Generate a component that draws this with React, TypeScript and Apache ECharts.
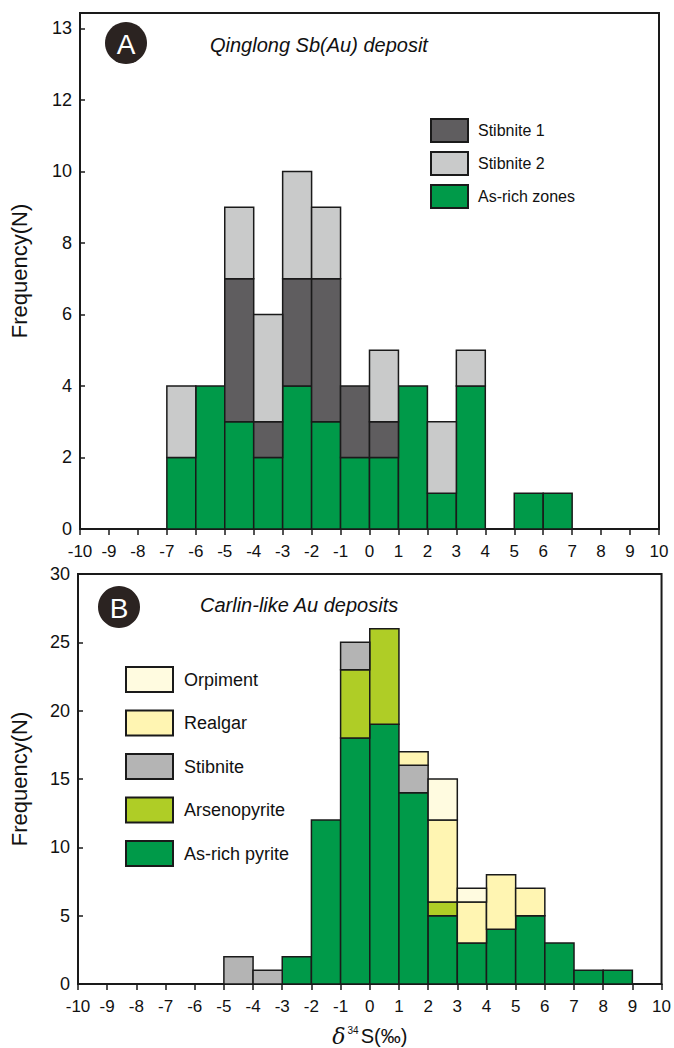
import React, { useEffect, useRef } from "react";
import * as echarts from "echarts";

// ---------- Data ----------
// Panel A: Qinglong Sb(Au) deposit, bins of 1‰ starting at these values
const binStartsA = [-7, -6, -5, -4, -3, -2, -1, 0, 1, 2, 3, 4, 5, 6];
const asRichA = [2, 4, 3, 2, 4, 3, 2, 2, 4, 1, 4, 0, 1, 1];
const stibnite1A = [0, 0, 4, 1, 3, 4, 2, 1, 0, 0, 0, 0, 0, 0];
const stibnite2A = [2, 0, 2, 3, 3, 2, 0, 2, 0, 2, 1, 0, 0, 0];

// Panel B: Carlin-like Au deposits
const binStartsB = [-5, -4, -3, -2, -1, 0, 1, 2, 3, 4, 5, 6, 7, 8];
const pyriteB = [0, 0, 2, 12, 18, 19, 14, 5, 3, 4, 5, 3, 1, 1];
const arsenoB = [0, 0, 0, 0, 5, 7, 0, 1, 0, 0, 0, 0, 0, 0];
const stibniteB = [2, 1, 0, 0, 2, 0, 2, 0, 0, 0, 0, 0, 0, 0];
const realgarB = [0, 0, 0, 0, 0, 0, 1, 6, 3, 4, 2, 0, 0, 0];
const orpimentB = [0, 0, 0, 0, 0, 0, 0, 3, 1, 0, 0, 0, 0, 0];

const FONT = "'Liberation Sans', Arial, sans-serif";
const STROKE = "#1a1a1a";

type Layer = { name: string; values: number[]; color: string };

const layersA: Layer[] = [
  { name: "As-rich zones", values: asRichA, color: "#009a49" },
  { name: "Stibnite 1", values: stibnite1A, color: "#5f5d5f" },
  { name: "Stibnite 2", values: stibnite2A, color: "#c9caca" },
];
const layersB: Layer[] = [
  { name: "As-rich pyrite", values: pyriteB, color: "#009a49" },
  { name: "Arsenopyrite", values: arsenoB, color: "#afcd26" },
  { name: "Stibnite", values: stibniteB, color: "#b4b4b4" },
  { name: "Realgar", values: realgarB, color: "#fff5b2" },
  { name: "Orpiment", values: orpimentB, color: "#fffbe0" },
];

function buildSeries(layers: Layer[], starts: number[], axisIndex: number) {
  const base = starts.map(() => 0);
  return layers.map((layer) => {
    const data: number[][] = [];
    layer.values.forEach((v, i) => {
      if (v > 0) {
        data.push([starts[i], starts[i] + 1, base[i], base[i] + v]);
      }
      base[i] += v;
    });
    return {
      type: "custom",
      name: layer.name,
      xAxisIndex: axisIndex,
      yAxisIndex: axisIndex,
      itemStyle: { color: layer.color, borderColor: STROKE, borderWidth: 1.5 },
      encode: { x: [0, 1], y: [2, 3] },
      data,
      renderItem: (params: any, api: any) => {
        const x0 = api.value(0);
        const x1 = api.value(1);
        const y0 = api.value(2);
        const y1 = api.value(3);
        const p0 = api.coord([x0, y1]);
        const p1 = api.coord([x1, y0]);
        return {
          type: "rect",
          shape: { x: p0[0], y: p0[1], width: p1[0] - p0[0], height: p1[1] - p0[1] },
          style: { fill: layer.color, stroke: STROKE, lineWidth: 1.5 },
        };
      },
      z: 2,
    };
  });
}

export default function App() {
  const ref = useRef<HTMLDivElement>(null);
  useEffect(() => {
    if (!ref.current) return;
    const chart = echarts.init(ref.current, undefined, { renderer: "svg" });

    const xAxisCommon = {
      type: "value",
      min: -10,
      max: 10,
      interval: 1,
      axisLine: { show: true, onZero: false, lineStyle: { color: STROKE, width: 2 } },
      axisTick: { show: true, inside: false, length: 6, lineStyle: { color: STROKE, width: 1.5 } },
      axisLabel: { color: "#111", fontSize: 17, fontFamily: FONT, margin: 14 },
      splitLine: { show: false },
    };
    const yAxisCommon = {
      type: "value",
      min: 0,
      axisLine: { show: true, onZero: false, lineStyle: { color: STROKE, width: 2 } },
      axisTick: { show: true, inside: true, length: 5, lineStyle: { color: STROKE, width: 1.5 } },
      splitLine: { show: false },
      nameLocation: "middle",
      nameTextStyle: { color: "#111", fontSize: 22, fontFamily: FONT },
    };

    const option: any = {
      animation: false,
      backgroundColor: "#fff",
      grid: [
        { left: 75, right: 15, top: 13, bottom: 519, show: true, borderColor: STROKE, borderWidth: 2, containLabel: false },
        { left: 73, right: 11, top: 574, bottom: 58, show: true, borderColor: STROKE, borderWidth: 2, containLabel: false },
      ],
      xAxis: [
        { ...xAxisCommon, gridIndex: 0 },
        {
          ...xAxisCommon,
          gridIndex: 1,
          name: "{d|δ}{sup|34}{s|S(‰)}",
          nameLocation: "middle",
          nameGap: 41,
          nameTextStyle: {
            rich: {
              d: { fontSize: 22, fontStyle: "italic", fontFamily: "'DejaVu Serif', serif", color: "#111" },
              sup: { fontSize: 10, fontFamily: FONT, color: "#111", padding: [0, 2, 12, 2] },
              s: { fontSize: 20, fontFamily: FONT, color: "#111" },
            },
          },
        },
      ],
      yAxis: [
        {
          ...yAxisCommon,
          gridIndex: 0,
          max: 14.43,
          interval: 2,
          name: "Frequency(N)",
          nameGap: 50,
          axisLabel: {
            color: "#111",
            fontSize: 18,
            fontFamily: FONT,
            margin: 8,
            formatter: (v: number) => (v === 14 ? "13" : Number.isInteger(v) && v % 2 === 0 ? String(v) : ""),
          },
        },
        {
          ...yAxisCommon,
          gridIndex: 1,
          max: 30,
          interval: 5,
          name: "Frequency(N)",
          nameGap: 48,
          axisLabel: { color: "#111", fontSize: 18, fontFamily: FONT, margin: 8 },
        },
      ],
      legend: [
        {
          orient: "vertical",
          left: 425,
          top: 113,
          itemWidth: 37,
          itemHeight: 23,
          itemGap: 8,
          selectedMode: false,
          icon: "rect",
          data: ["Stibnite 1", "Stibnite 2", "As-rich zones"],
          textStyle: { color: "#111", fontSize: 16, fontFamily: FONT, padding: [0, 0, 0, 5] },
        },
        {
          orient: "vertical",
          left: 120,
          top: 661,
          itemWidth: 47,
          itemHeight: 25,
          itemGap: 16.5,
          selectedMode: false,
          icon: "rect",
          data: ["Orpiment", "Realgar", "Stibnite", "Arsenopyrite", "As-rich pyrite"],
          textStyle: { color: "#111", fontSize: 18, fontFamily: FONT, padding: [0, 0, 0, 6] },
        },
      ],
      graphic: [
        { type: "circle", shape: { cx: 126, cy: 43, r: 21 }, style: { fill: "#2b2321" } },
        {
          type: "text",
          x: 126,
          y: 44,
          style: { text: "A", fill: "#fff", font: `28px ${FONT}`, align: "center", verticalAlign: "middle" },
        },
        {
          type: "text",
          x: 210,
          y: 45,
          style: { text: "Qinglong Sb(Au) deposit", fill: "#111", font: `italic 20px ${FONT}`, align: "left", verticalAlign: "middle" },
        },
        { type: "circle", shape: { cx: 119, cy: 607, r: 21 }, style: { fill: "#2b2321" } },
        {
          type: "text",
          x: 119,
          y: 608,
          style: { text: "B", fill: "#fff", font: `28px ${FONT}`, align: "center", verticalAlign: "middle" },
        },
        {
          type: "text",
          x: 200,
          y: 605,
          style: { text: "Carlin-like Au deposits", fill: "#111", font: `italic 20px ${FONT}`, align: "left", verticalAlign: "middle" },
        },
      ],
      series: [...buildSeries(layersA, binStartsA, 0), ...buildSeries(layersB, binStartsB, 1)],
    };

    chart.setOption(option);
    return () => chart.dispose();
  }, []);

  return (
    <div
      ref={ref}
      style={{ position: "fixed", left: 0, top: 0, width: 674, height: 1048, background: "#fff" }}
    />
  );
}
